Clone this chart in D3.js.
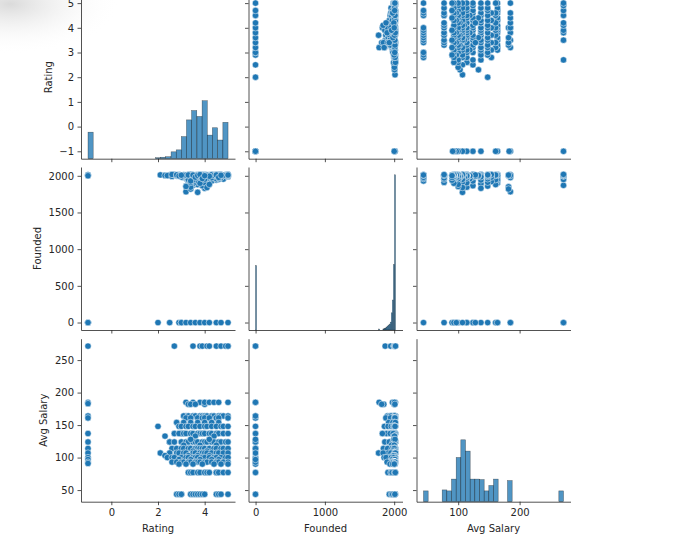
<!DOCTYPE html>
<html>
<head>
<meta charset="utf-8">
<script src="https://cdn.jsdelivr.net/npm/d3@7"></script>
<style>
  body{margin:0;background:#fff;}
  svg{display:block;}
  text{font-family:"DejaVu Sans",sans-serif;}
</style>
</head>
<body>
<svg id="chart" width="680" height="549"></svg>
<script>
// variables of the pair grid, in row/column order
const varNames = ["Rating", "Founded", "Avg Salary"];
const varDomains = [[-1, 5], [-1, 2019], [43.5, 271.5]];
const ratingTicksY = [-1, 0, 1, 2, 3, 4, 5];
const ratingTicksX = [0, 2, 4];
const foundedTicksY = [0, 500, 1000, 1500, 2000];
const foundedTicksX = [0, 1000, 2000];
const salaryTicksY = [50, 100, 150, 200, 250];
const salaryTicksX = [100, 200];

// diagonal histograms (non-empty bins only: lower edge + count)
const ratingBinLo    = [-1, 1.89, 2.11, 2.33, 2.56, 2.78, 3.00, 3.22, 3.44, 3.67, 3.89, 4.11, 4.33, 4.56, 4.78];
const ratingBinCount = [54, 2, 3, 4, 14, 18, 45, 79, 98, 86, 118, 48, 63, 38, 74];
const ratingBinWidth = 0.222;
const foundedBinLo    = [-1, 1776, 1837, 1852, 1867, 1882, 1898, 1913, 1928, 1943, 1958, 1973, 1989, 2004];
const foundedBinCount = [131, 2, 2, 3, 4, 6, 8, 10, 12, 16, 35, 61, 133, 316];
const foundedBinWidth = 15.2;
const salaryBinLo    = [43.5, 73.9, 81.5, 89.1, 96.7, 104.3, 111.9, 119.5, 127.1, 134.7, 142.3, 149.9, 157.5, 180.3, 263.9];
const salaryBinCount = [22, 24, 22, 46, 90, 126, 103, 46, 46, 45, 22, 33, 46, 43, 22];
const salaryBinWidth = 7.6;

// observations: [Rating, Founded, Avg Salary]
const obs = [
  // rating -1 (missing)
  [-1,-1,271.5],[-1,-1,185],[-1,2005,183],[-1,-1,164],[-1,-1,161],[-1,2010,137],[-1,-1,124],
  [-1,-1,114],[-1,2012,107],[-1,-1,100],[-1,-1,97],[-1,-1,93],[-1,2001,91],
  // founded -1 (missing)
  [2.0,-1,148],[2.5,-1,124],[2.9,-1,90],[3.0,-1,43.5],[3.0,-1,137],[3.2,-1,164],[3.4,-1,114],
  [3.6,-1,93],[3.8,-1,97],[4.0,-1,185],[4.2,-1,128],[4.5,-1,77],[4.7,-1,107],[5.0,-1,271.5],
  // 271.5
  [2.7,2004,271.5],[3.5,1870,271.5],[3.8,1985,271.5],[3.9,1950,271.5],[4.1,2000,271.5],
  [4.2,1996,271.5],[4.5,2012,271.5],[4.7,2008,271.5],[4.9,2015,271.5],[5.0,2019,271.5],
  // 182-185
  [3.2,1783,185],[3.3,2000,182],[3.5,1996,185],[3.8,2012,185],[4.0,1850,182],[4.0,1990,185],
  [4.2,2008,185],[4.4,1976,185],[4.6,2015,185],[5.0,2004,185],[3.4,1820,182],[3.6,2010,182],
  // 164
  [3.1,2012,164],[3.3,1902,164],[3.5,2004,164],[3.6,1968,164],[3.8,1998,164],[3.9,2015,164],
  [4.0,1935,164],[4.1,2008,164],[4.3,1985,164],[4.4,2019,164],[4.6,1996,164],[4.7,2010,164],
  [4.8,1955,164],[5.0,2006,164],
  // 161
  [3.2,1990,161],[3.4,2016,161],[3.7,1880,161],[3.9,2001,161],[4.0,1972,161],[4.2,2013,161],
  [4.5,1947,161],[4.6,2003,161],[5.0,2011,161],
  // 154
  [2.8,2007,154],[3.1,1994,154],[3.4,2010,154],[3.7,1921,154],[4.0,2005,154],[4.3,1981,154],
  [4.6,2017,154],
  // 148
  [2.9,2014,148],[3.0,1993,148],[3.2,1860,148],[3.3,2008,148],[3.5,1979,148],[3.6,2002,148],
  [3.8,1912,148],[4.0,2018,148],[4.1,1998,148],[4.3,1958,148],[4.5,2009,148],[4.7,1988,148],
  [4.8,2004,148],[5.0,2013,148],
  // 133-137
  [2.7,2011,137],[2.9,1999,137],[3.1,2006,137],[3.2,1964,137],[3.4,2017,137],[3.5,1890,137],
  [3.7,2003,137],[3.8,1975,137],[3.9,2012,137],[4.0,1830,137],[4.2,1996,137],[4.3,2008,137],
  [4.5,1943,137],[4.6,2015,137],[4.8,2001,137],[5.0,1986,137],
  [2.3,2009,133],[3.6,1998,133],[4.4,2005,133],
  // 124-128
  [2.5,2001,124],[2.7,2016,124],[3.0,1989,124],[3.2,2010,124],[3.3,1938,124],[3.5,2005,124],
  [3.6,1972,124],[3.7,2014,124],[3.9,1865,124],[4.0,1999,124],[4.1,2011,124],[4.3,1929,124],
  [4.4,2007,124],[4.6,1983,124],[4.7,2019,124],[4.9,2002,124],[5.0,2010,124],
  [3.4,1995,128],[4.2,2012,128],
  // 114-119
  [3.1,2004,119],[3.8,1961,119],[4.5,2000,119],
  [2.6,2013,114],[2.8,1997,114],[3.0,2008,114],[3.1,1978,114],[3.3,2015,114],[3.4,1845,114],
  [3.6,2001,114],[3.7,1956,114],[3.8,2011,114],[3.9,1990,114],[4.0,1905,114],[4.2,2006,114],
  [4.4,1969,114],[4.5,2017,114],[4.7,1994,114],[4.8,2009,114],[5.0,2000,114],
  // 103-110
  [3.5,2012,110],[4.1,1980,110],
  [2.1,2012,107],[2.5,2010,107],[2.8,2000,107],[2.9,2016,107],[3.1,1987,107],[3.2,2007,107],
  [3.7,1775,107],[3.5,1998,107],[3.6,1915,107],[3.8,2013,107],[3.9,1966,107],[4.0,2004,107],
  [4.1,1840,107],[4.3,2010,107],[4.5,1993,107],[4.6,1952,107],[4.8,2006,107],[5.0,2018,107],
  [2.3,2005,103],[3.3,1977,103],[3.7,2009,103],[4.2,1995,103],
  // 97-100
  [2.4,2003,100],[2.6,1992,100],[2.7,2014,100],[3.0,2001,100],[3.2,1855,100],[3.3,2010,100],
  [3.5,1971,100],[3.6,2005,100],[3.7,1934,100],[3.9,2016,100],[4.0,1997,100],[4.2,1883,100],
  [4.4,2008,100],[4.5,1960,100],[4.7,2002,100],[4.9,2012,100],[5.0,1990,100],
  [2.9,2008,97],[3.4,1999,97],[3.8,2014,97],[4.3,1974,97],[4.6,2010,97],
  // 90-93
  [2.6,2018,93],[2.8,2006,93],[3.0,1982,93],[3.1,2012,93],[3.3,1948,93],[3.4,2003,93],
  [3.6,1995,93],[3.7,2011,93],[3.8,1898,93],[4.0,2007,93],[4.1,1967,93],[4.3,2015,93],
  [4.5,2001,93],[4.6,1985,93],[4.8,2009,93],[5.0,2014,93],
  [2.9,1996,90],[3.2,2009,90],[3.5,1940,90],[3.9,2013,90],[4.4,2004,90],[4.7,1977,90],[5.0,2002,90],
  // 77
  [3.3,2011,77],[3.4,1910,77],[3.5,2002,77],[3.7,1988,77],[3.8,2015,77],[4.0,1953,77],
  [4.1,2007,77],[4.2,1994,77],[4.5,2012,77],[4.6,1970,77],[4.8,2005,77],[5.0,2016,77],
  // 43.5
  [2.8,2013,43.5],[2.9,1999,43.5],[3.0,2008,43.5],[3.4,1930,43.5],[3.5,2010,43.5],[3.6,1981,43.5],
  [3.7,2004,43.5],[3.8,2016,43.5],[3.9,1962,43.5],[4.0,2001,43.5],[4.5,2012,43.5],[4.6,1978,43.5],
  [4.7,2007,43.5],[5.0,2010,43.5]
];

const BLUE = "#1f77b4";
const INK = "#262626";

function padDomain(d){
  const p = (d[1]-d[0])*0.05;
  return [d[0]-p, d[1]+p];
}

function draw(){
  const svg = d3.select("#chart");
  svg.selectAll("*").remove();

  // soft grey smudge in the top-left corner of the screenshot
  const defs = svg.append("defs");
  const rg = defs.append("radialGradient").attr("id","smudge");
  rg.append("stop").attr("offset","0%").attr("stop-color","#d6d6d6").attr("stop-opacity",0.9);
  rg.append("stop").attr("offset","100%").attr("stop-color","#ffffff").attr("stop-opacity",0);
  svg.append("ellipse").attr("cx",10).attr("cy",4).attr("rx",110).attr("ry",50)
    .attr("fill","url(#smudge)");

  const colX = [81, 248.5, 416.5], pw = 154;
  const rowY = [-4.3, 167, 338.7], ph = 163;

  const xs = varDomains.map((d,j)=> d3.scaleLinear().domain(padDomain(d)).range([colX[j], colX[j]+pw]));
  const ys = varDomains.map((d,i)=> d3.scaleLinear().domain(padDomain(d)).range([rowY[i]+ph, rowY[i]]));
  const xTicks = [ratingTicksX, foundedTicksX, salaryTicksX];
  const yTicks = [ratingTicksY, foundedTicksY, salaryTicksY];

  // shared y for the diagonal histograms
  const maxCount = d3.max([...ratingBinCount, ...foundedBinCount, ...salaryBinCount]);
  const hists = [
    {lo: ratingBinLo, n: ratingBinCount, w: ratingBinWidth},
    {lo: foundedBinLo, n: foundedBinCount, w: foundedBinWidth},
    {lo: salaryBinLo, n: salaryBinCount, w: salaryBinWidth},
  ];

  for(let i=0;i<3;i++){
    for(let j=0;j<3;j++){
      const g = svg.append("g");
      const x = xs[j], y = ys[i];
      if(i===j){
        const hy = d3.scaleLinear().domain([0, maxCount*1.05]).range([rowY[i]+ph, rowY[i]]);
        const h = hists[i];
        const bins = h.lo.map((lo,k)=>({lo, hi: lo+h.w, n: h.n[k]}));
        g.selectAll("rect").data(bins).enter().append("rect")
          .attr("x", d=>x(d.lo))
          .attr("width", d=>Math.max(0.6, x(d.hi)-x(d.lo)))
          .attr("y", d=>hy(d.n))
          .attr("height", d=>hy(0)-hy(d.n))
          .attr("fill", BLUE).attr("fill-opacity", 0.78)
          .attr("stroke", "#000").attr("stroke-opacity", 0.55).attr("stroke-width", 0.5);
      } else {
        g.selectAll("circle").data(obs).enter().append("circle")
          .attr("cx", d=>x(d[j]))
          .attr("cy", d=>y(d[i]))
          .attr("r", 3.2)
          .attr("fill", BLUE)
          .attr("stroke", "#fff").attr("stroke-width", 0.5);
      }

      // spines + ticks (labels only on outer edge)
      const ax = svg.append("g").attr("transform", `translate(${colX[j]},0)`)
        .call(d3.axisLeft(y).tickValues(yTicks[i]).tickSize(3.5).tickSizeOuter(0).tickPadding(3.5)
          .tickFormat(j===0 ? d3.format("d") : ()=>""));
      const bx = svg.append("g").attr("transform", `translate(0,${rowY[i]+ph})`)
        .call(d3.axisBottom(x).tickValues(xTicks[j]).tickSize(3.5).tickSizeOuter(0).tickPadding(3.5)
          .tickFormat(i===2 ? d3.format("d") : ()=>""));
      [ax, bx].forEach(a=>{
        a.selectAll(".domain,.tick line").attr("stroke", INK).attr("stroke-width", 0.8);
        a.selectAll("text").attr("fill", INK).attr("font-size", 10)
          .attr("font-family", '"DejaVu Sans", sans-serif');
      });
    }
  }

  // axis labels
  for(let j=0;j<3;j++){
    svg.append("text")
      .attr("x", colX[j]+pw/2).attr("y", 531.5)
      .attr("text-anchor","middle").attr("font-size",10).attr("fill",INK)
      .text(varNames[j]);
  }
  const ylabX = [48, 37, 43];
  for(let i=0;i<3;i++){
    const cy = rowY[i]+ph/2;
    svg.append("text")
      .attr("transform", `translate(${ylabX[i]},${cy}) rotate(-90)`)
      .attr("text-anchor","middle").attr("dominant-baseline","central")
      .attr("font-size",10).attr("fill",INK)
      .text(varNames[i]);
  }
}

window.addEventListener("DOMContentLoaded", draw);
</script>
</body>
</html>
